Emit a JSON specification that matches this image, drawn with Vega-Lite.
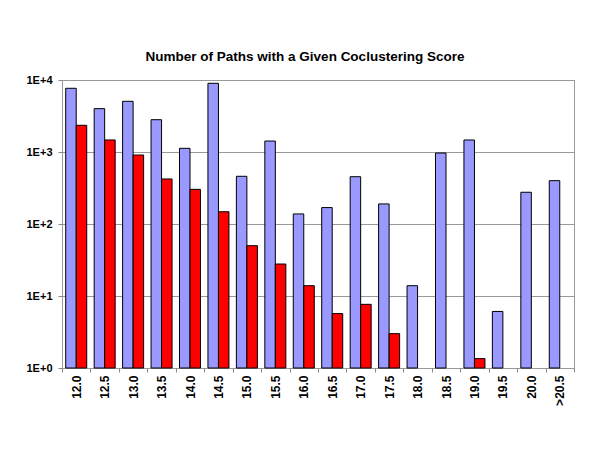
{
  "$schema": "https://vega.github.io/schema/vega-lite/v6.json",
  "autosize": "none",
  "width": 512,
  "height": 288,
  "padding": {"left": 62, "top": 80, "right": 26, "bottom": 82},
  "background": "white",
  "title": {
    "text": "Number of Paths with a Given Coclustering Score",
    "font": "Liberation Sans",
    "fontSize": 13.5,
    "fontWeight": "bold",
    "color": "black",
    "anchor": "middle",
    "baseline": "bottom",
    "offset": -3,
    "dx": -13
  },
  "config": {
    "view": {"stroke": "#999999", "strokeWidth": 1},
    "axis": {
      "labelFont": "Liberation Sans",
      "labelFontSize": 11,
      "labelFontWeight": "bold",
      "labelColor": "black",
      "tickColor": "#888888",
      "domain": false,
      "title": null
    }
  },
  "data": {
    "values": [
      {"score": "12.0", "series": "Series 1", "count": 7670},
      {"score": "12.0", "series": "Series 2", "count": 2350},
      {"score": "12.5", "series": "Series 1", "count": 4000},
      {"score": "12.5", "series": "Series 2", "count": 1470},
      {"score": "13.0", "series": "Series 1", "count": 5060},
      {"score": "13.0", "series": "Series 2", "count": 908},
      {"score": "13.5", "series": "Series 1", "count": 2810},
      {"score": "13.5", "series": "Series 2", "count": 422},
      {"score": "14.0", "series": "Series 1", "count": 1125},
      {"score": "14.0", "series": "Series 2", "count": 303},
      {"score": "14.5", "series": "Series 1", "count": 9000},
      {"score": "14.5", "series": "Series 2", "count": 148},
      {"score": "15.0", "series": "Series 1", "count": 460},
      {"score": "15.0", "series": "Series 2", "count": 50},
      {"score": "15.5", "series": "Series 1", "count": 1420},
      {"score": "15.5", "series": "Series 2", "count": 27.8},
      {"score": "16.0", "series": "Series 1", "count": 138},
      {"score": "16.0", "series": "Series 2", "count": 13.9},
      {"score": "16.5", "series": "Series 1", "count": 169},
      {"score": "16.5", "series": "Series 2", "count": 5.7},
      {"score": "17.0", "series": "Series 1", "count": 454},
      {"score": "17.0", "series": "Series 2", "count": 7.66},
      {"score": "17.5", "series": "Series 1", "count": 190},
      {"score": "17.5", "series": "Series 2", "count": 3.0},
      {"score": "18.0", "series": "Series 1", "count": 13.9},
      {"score": "18.5", "series": "Series 1", "count": 968},
      {"score": "19.0", "series": "Series 1", "count": 1468},
      {"score": "19.0", "series": "Series 2", "count": 1.35},
      {"score": "19.5", "series": "Series 1", "count": 6.1},
      {"score": "20.0", "series": "Series 1", "count": 276},
      {"score": ">20.5", "series": "Series 1", "count": 400}
    ]
  },
  "mark": {"type": "bar", "stroke": "black", "strokeWidth": 1},
  "encoding": {
    "x": {
      "field": "score",
      "type": "nominal",
      "sort": null,
      "scale": {"paddingInner": 0, "paddingOuter": 0},
      "axis": {
        "labelAngle": -90,
        "labelFontSize": 12,
        "tickBand": "extent",
        "tickSize": 4,
        "labelPadding": 3
      }
    },
    "xOffset": {
      "field": "series",
      "type": "nominal",
      "scale": {"domain": ["Series 1", "Series 2"], "paddingInner": 0, "paddingOuter": 0.354}
    },
    "y": {
      "field": "count",
      "type": "quantitative",
      "stack": null,
      "scale": {"type": "log", "domain": [1, 10000], "nice": false},
      "axis": {
        "values": [1, 10, 100, 1000, 10000],
        "labelExpr": "'1E+' + format(round(log(datum.value) / LN10), 'd')",
        "grid": true,
        "gridColor": "#999999",
        "gridOpacity": 1,
        "tickSize": 4,
        "labelPadding": 6
      }
    },
    "y2": {"datum": 1},
    "color": {
      "field": "series",
      "type": "nominal",
      "scale": {"domain": ["Series 1", "Series 2"], "range": ["#9999FF", "#FF0000"]},
      "legend": null
    }
  }
}
